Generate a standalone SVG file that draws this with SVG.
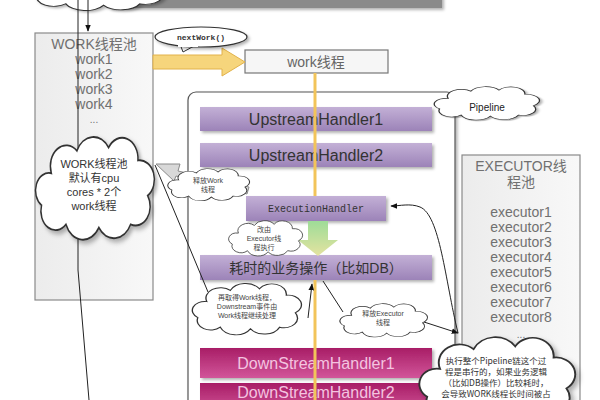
<svg xmlns="http://www.w3.org/2000/svg" width="600" height="400" viewBox="0 0 600 400">
<style>
.t{font-family:"Liberation Sans","Noto Sans CJK SC",sans-serif;text-anchor:middle}
.g{fill:#707070;font-size:14px}
.bar{stroke:none}
.cloud{fill:#fff;stroke:#333;stroke-width:1.2}
.ln{fill:none;stroke:#222;stroke-width:1}
.note{fill:#444;font-size:7px}
</style>
<defs>
<linearGradient id="pur" x1="0" y1="0" x2="0" y2="1"><stop offset="0" stop-color="#c3b0d6"/><stop offset="1" stop-color="#9c83b8"/></linearGradient>
<linearGradient id="mag" x1="0" y1="0" x2="0" y2="1"><stop offset="0" stop-color="#a81e66"/><stop offset="1" stop-color="#d2559a"/></linearGradient>
<linearGradient id="grn" x1="0" y1="0" x2="0" y2="1"><stop offset="0" stop-color="#9edc98"/><stop offset="1" stop-color="#e4e3a0"/></linearGradient>
<linearGradient id="box" x1="0" y1="0" x2="1" y2="0"><stop offset="0" stop-color="#ececec"/><stop offset="1" stop-color="#f8f8f8"/></linearGradient>
<filter id="sh" x="-10%" y="-10%" width="130%" height="140%"><feDropShadow dx="2" dy="2" stdDeviation="1.5" flood-color="#000" flood-opacity="0.3"/></filter>
<marker id="ah" viewBox="0 0 10 10" refX="9" refY="5" markerWidth="7" markerHeight="7" orient="auto-start-reverse"><path d="M0,1 L10,5 L0,9 Z" fill="#111"/></marker>
<path id="cl" d="M 15 22 A 13 13 0 0 1 36 8 A 15 15 0 0 1 62 6 A 13 13 0 0 1 86 14 A 12 12 0 0 1 94 36 A 12 12 0 0 1 80 54 A 15 15 0 0 1 54 56 A 15 15 0 0 1 27 54 A 12 12 0 0 1 7 42 A 11 11 0 0 1 15 22 Z"/>
</defs>

<!-- top fragments -->
<g id="top">
<rect x="110" y="-10" width="332" height="18" fill="#8a8a8a" filter="url(#sh)"/>
<use href="#cl" transform="translate(28,-34) scale(1.4,0.7)" class="cloud" vector-effect="non-scaling-stroke" filter="url(#sh)"/>
</g>

<!-- containers -->
<g id="pipeline">
<rect x="188" y="92" width="267" height="330" rx="8" fill="#fff" stroke="#555" stroke-width="1.2" filter="url(#sh)"/>
</g>

<g id="workpool">
<rect x="35" y="33" width="118" height="267" fill="url(#box)" stroke="#8a8a8a" stroke-width="1.2"/>
<text class="t g" x="94" y="49" fill="#666">WORK线程池</text>
<text class="t g" x="94" y="64">work1</text>
<text class="t g" x="94" y="79">work2</text>
<text class="t g" x="94" y="94">work3</text>
<text class="t g" x="94" y="109">work4</text>
<text class="t g" x="94" y="123" style="font-size:10px">...</text>
</g>

<g id="executorpool">
<rect x="462" y="155" width="118" height="260" fill="url(#box)" stroke="#8a8a8a" stroke-width="1.2"/>
<text class="t g" x="521" y="171">EXECUTOR线</text>
<text class="t g" x="521" y="187">程池</text>
<text class="t g" x="521" y="217">executor1</text>
<text class="t g" x="521" y="232">executor2</text>
<text class="t g" x="521" y="247">executor3</text>
<text class="t g" x="521" y="262">executor4</text>
<text class="t g" x="521" y="277">executor5</text>
<text class="t g" x="521" y="292">executor6</text>
<text class="t g" x="521" y="307">executor7</text>
<text class="t g" x="521" y="322">executor8</text>
<text class="t g" x="521" y="338" style="font-size:10px">...</text>
</g>

<g id="workthread">
<rect x="245" y="50" width="143" height="23" fill="#f6f6f6" stroke="#777" stroke-width="1.2"/>
<text class="t" x="316" y="67" style="font-size:14px;fill:#666">work线程</text>
</g>

<g id="up1"><rect class="bar" x="200" y="107" width="232" height="24" fill="url(#pur)" filter="url(#sh)"/><text class="t" x="316" y="125" style="font-size:16px;fill:#333">UpstreamHandler1</text></g>
<g id="up2"><rect class="bar" x="200" y="143" width="232" height="24" fill="url(#pur)" filter="url(#sh)"/><text class="t" x="316" y="161" style="font-size:16px;fill:#333">UpstreamHandler2</text></g>
<g id="exec"><rect class="bar" x="246" y="196" width="140" height="25" fill="url(#pur)" filter="url(#sh)"/><text class="t" x="316" y="212" style="font-family:'Liberation Mono',monospace;font-size:10px;fill:#333">ExecutionHandler</text></g>
<g id="biz"><rect class="bar" x="200" y="255" width="232" height="25" fill="url(#pur)" filter="url(#sh)"/><text class="t" x="316" y="273" style="font-size:14px;fill:#333">耗时的业务操作（比如DB）</text></g>
<g id="down1"><rect class="bar" x="200" y="348" width="232" height="30" fill="url(#mag)" filter="url(#sh)"/><text class="t" x="316" y="369" style="font-size:16px;fill:#f4c4e0">DownStreamHandler1</text></g>
<g id="down2"><rect class="bar" x="200" y="383" width="232" height="30" fill="url(#mag)" filter="url(#sh)"/><text class="t" x="316" y="398" style="font-size:16px;fill:#f4c4e0">DownStreamHandler2</text></g>

<!-- connectors -->
<g id="connectors">
<line class="ln" x1="88" y1="0" x2="88" y2="31" marker-end="url(#ah)"/>
<polyline class="ln" points="78,0 78,270 89,400"/>
<polygon points="153,55 222,55 222,48 245,62 222,76 222,69 153,69" fill="#f6d57c" stroke="#e2b24a" stroke-width="1"/>
<line x1="315" y1="73" x2="315" y2="196" stroke="#f2c45a" stroke-width="3"/>
<line x1="315" y1="280" x2="315" y2="400" stroke="#f2c45a" stroke-width="3"/>
<polygon points="308,221 328,221 328,240 338,240 318,256 298,240 308,240" fill="url(#grn)"/>
<polygon points="249,187 178,171 180,164 156,164 174,181 176,176 247,194" fill="#d8d8d8" stroke="#8a8a8a" stroke-width="1"/>
<line class="ln" x1="155" y1="165" x2="208" y2="292"/>
<line class="ln" x1="308" y1="318" x2="312" y2="284" marker-end="url(#ah)"/>
<line class="ln" x1="323" y1="281" x2="343" y2="312"/>
<line class="ln" x1="424" y1="322" x2="458" y2="333" marker-end="url(#ah)"/>
<path class="ln" d="M 458 333 C 445 280 440 215 420 207 C 410 203 400 206 391 206" marker-end="url(#ah)"/>
</g>

<!-- callouts -->
<g id="nextwork">
<path d="M 180 44 L 183 52 L 196 45" fill="#fff" stroke="#333"/>
<ellipse cx="201" cy="37" rx="46" ry="10" fill="#fff" stroke="#333" stroke-width="1.2" filter="url(#sh)"/>
<rect x="178" y="42" width="20" height="5" fill="#fff"/>
<text class="t" x="201" y="40" style="font-family:'Liberation Mono',monospace;font-size:8px;font-weight:bold;fill:#333">nextWork()</text>
</g>

<g id="pipecloud">
<use href="#cl" transform="translate(432,87) scale(1.08,0.52)" class="cloud" vector-effect="non-scaling-stroke" filter="url(#sh)"/>
<text class="t" x="487" y="111" style="font-size:10px;fill:#222">Pipeline</text>
</g>

<g id="worknote">
<use href="#cl" transform="translate(33,138) scale(1.22,1.6)" class="cloud" vector-effect="non-scaling-stroke" filter="url(#sh)"/>
<text class="t" x="94" y="168" style="font-size:11px;fill:#333">WORK线程池</text>
<text class="t" x="94" y="182" style="font-size:11px;fill:#333">默认有cpu</text>
<text class="t" x="94" y="196" style="font-size:11px;fill:#333">cores * 2个</text>
<text class="t" x="94" y="210" style="font-size:11px;fill:#333">work线程</text>
</g>

<g id="relwork">
<use href="#cl" transform="translate(166,169) scale(0.84,0.5)" class="cloud" vector-effect="non-scaling-stroke"/>
<text class="t note" x="208" y="183">释放Work</text>
<text class="t note" x="208" y="192">线程</text>
</g>

<g id="byexec">
<use href="#cl" transform="translate(227,221) scale(0.76,0.55)" class="cloud" vector-effect="non-scaling-stroke"/>
<text class="t note" x="264" y="232">改由</text>
<text class="t note" x="264" y="241">Executor线</text>
<text class="t note" x="264" y="250">程执行</text>
</g>

<g id="regain">
<use href="#cl" transform="translate(190,284) scale(1.12,0.8)" class="cloud" vector-effect="non-scaling-stroke"/>
<text class="t note" x="247" y="300">再取得Work线程，</text>
<text class="t note" x="247" y="309">Downstream事件由</text>
<text class="t note" x="247" y="318">Work线程继续处理</text>
</g>

<g id="relexec">
<use href="#cl" transform="translate(338,304) scale(0.9,0.52)" class="cloud" vector-effect="non-scaling-stroke"/>
<text class="t note" x="383" y="316">释放Executor</text>
<text class="t note" x="383" y="325">线程</text>
</g>

<g id="bignote">
<use href="#cl" transform="translate(416,338) scale(1.6,1.4)" class="cloud" vector-effect="non-scaling-stroke" filter="url(#sh)"/>
<g style="font-family:'Noto Sans CJK SC',sans-serif;font-size:8.5px;fill:#333;text-anchor:middle">
<text x="496" y="364">执行整个Pipeline链这个过</text>
<text x="496" y="375">程是串行的，如果业务逻辑</text>
<text x="496" y="386">（比如DB操作）比较耗时，</text>
<text x="496" y="397">会导致WORK线程长时间被占</text>
</g>
</g>
</svg>
